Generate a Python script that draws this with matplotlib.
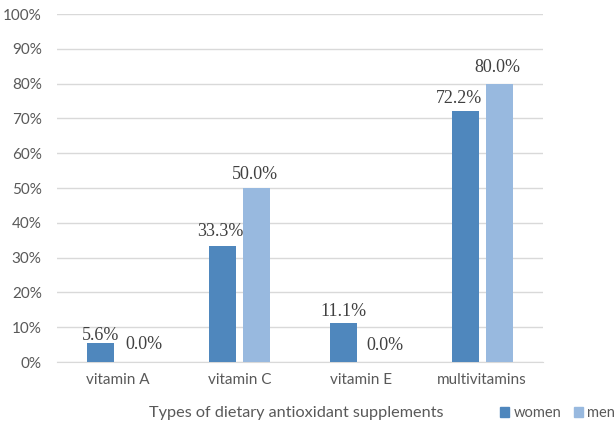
import matplotlib
matplotlib.use("Agg")
import matplotlib.pyplot as plt
import numpy as np
from matplotlib.patches import Patch

categories = ["vitamin A", "vitamin C", "vitamin E", "multivitamins"]
women = [5.6, 33.3, 11.1, 72.2]
men = [0.0, 50.0, 0.0, 80.0]
yticks = [0, 10, 20, 30, 40, 50, 60, 70, 80, 90, 100]

# per-label placement (points) relative to bar top centre
women_label_offsets = [(0, 1.5), (-1.3, 7.2), (0, 5.0), (-4.7, 5.4)]
men_label_offsets = [(6.5, 9.4), (-0.8, 6.5), (5.0, 8.6), (-1.2, 8.0)]

c_women = "#4F87BD"
c_men = "#98B9DF"
tick_color = "#595959"

fig = plt.figure(figsize=(6.15, 4.28), dpi=100)
ax = fig.add_axes([57 / 615, 1 - 362 / 428, (543 - 57) / 615, (362 - 14) / 428])

x = np.arange(len(categories))
w = 0.222
off = 0.14
b1 = ax.bar(x - off, women, w, color=c_women, zorder=3)
b2 = ax.bar(x + off, men, w, color=c_men, zorder=3)

for bars, vals, offs in ((b1, women, women_label_offsets), (b2, men, men_label_offsets)):
    for b, v, (dx, dy) in zip(bars, vals, offs):
        ax.annotate(f"{v:.1f}%", (b.get_x() + b.get_width() / 2, v),
                    xytext=(dx, dy), textcoords="offset points",
                    ha="center", va="baseline", fontsize=13,
                    family="Liberation Serif", color="#404040")

ax.set_xlim(-0.5, len(categories) - 0.5)
ax.set_ylim(0, 100)
ax.set_yticks(yticks)
ax.set_yticklabels([f"{t}%" for t in yticks])
ax.set_xticks(x)
ax.set_xticklabels(categories)
ax.yaxis.grid(True, color="#D9D9D9", linewidth=1, zorder=0)
ax.set_axisbelow(True)
for s in ("top", "right", "left"):
    ax.spines[s].set_visible(False)
ax.spines["bottom"].set_color("#D9D9D9")
ax.tick_params(axis="both", length=0, labelsize=11, labelcolor=tick_color)
ax.tick_params(axis="y", pad=11)
ax.tick_params(axis="x", pad=8)
for lbl in ax.get_xticklabels() + ax.get_yticklabels():
    lbl.set_family("Lato")

fig.text(296 / 615, 1 - 413 / 428, "Types of dietary antioxidant supplements",
         ha="center", va="center", fontsize=11.7, color=tick_color, family="Lato")

handles = [Patch(color=c_women, label="women"), Patch(color=c_men, label="men")]
fig.legend(handles=handles, loc="center left", bbox_to_anchor=(500 / 615, 1 - 413 / 428),
           ncol=2, frameon=False, borderpad=0, borderaxespad=0,
           handlelength=0.64, handleheight=0.64,
           handletextpad=0.27, columnspacing=0.9, labelcolor=tick_color,
           prop={"family": "Lato", "size": 10.5})

fig.savefig("out.png", dpi=100)
